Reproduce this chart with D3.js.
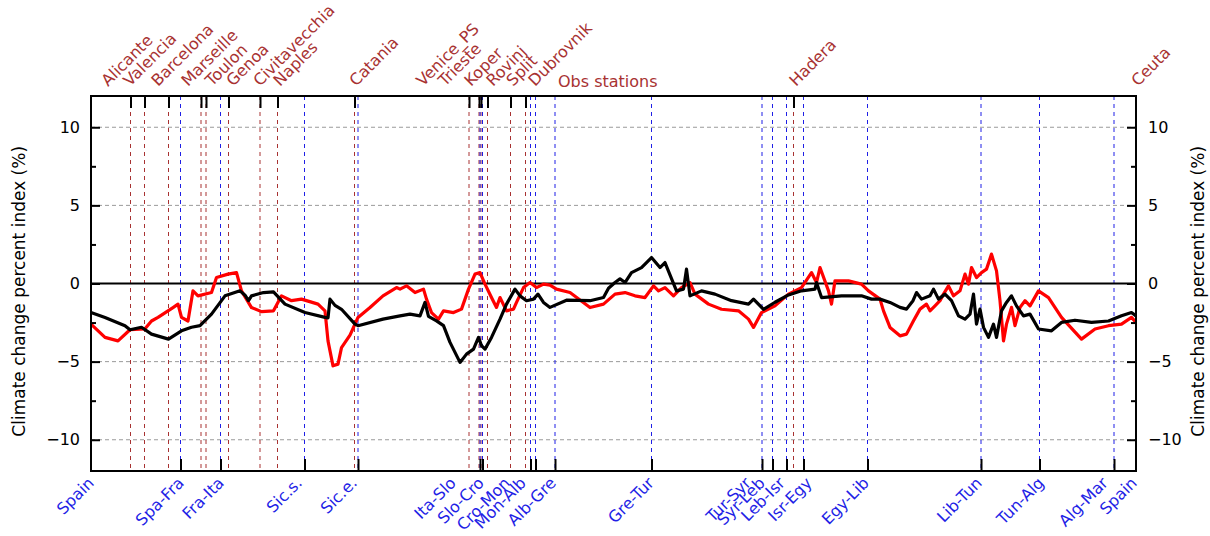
<!DOCTYPE html>
<html>
<head>
<meta charset="utf-8">
<script src="https://d3js.org/d3.v7.min.js"></script>
<style>
  body { margin: 0; background: #fff; }
  svg text { font-family: "DejaVu Sans", Verdana, sans-serif; }
</style>
</head>
<body>
<div id="chart"></div>
<script>
// Data ----------------------------------------------------------------------->

// Along-coast position index (0 = Spain, going round the basin back to Spain)
const station_names = ['Alicante', 'Valencia', 'Barcelona', 'Marseille', 'Toulon',
  'Genoa', 'Civitavecchia', 'Naples', 'Catania', 'Venice_PS', 'Trieste', 'Koper',
  'Rovinj', 'Split', 'Dubrovnik', 'Hadera', 'Ceuta'];
const station_pos = [79, 107, 155, 220, 230, 275, 338, 373, 527, 756, 776, 780,
  793, 839, 869, 1405, 2090];
// where each station name is written (labels were spread to avoid overlap)
const station_label_pos = [34, 78, 134, 194, 242, 284, 338, 378, 530, 664, 708,
  760, 804, 844, 888, 1410, 2094];

const border_names = ['Spain', 'Spa-Fra', 'Fra-Ita', 'Sic.s.', 'Sic.e.', 'Ita-Slo',
  'Slo-Cro', 'Cro-Mon', 'Mon-Alb', 'Alb-Gre', 'Gre-Tur', 'Tur-Syr', 'Syr-Leb',
  'Leb-Isr', 'Isr-Egy', 'Egy-Lib', 'Lib-Tun', 'Tun-Alg', 'Alg-Mar', 'Spain'];
const border_pos = [0, 179, 259, 427, 534, 778, 783, 879, 889, 928, 1121, 1342,
  1363, 1391, 1425, 1553, 1780, 1897, 2046, 2090];
const border_label_pos = [8, 188, 268, 424, 534, 732, 788, 840, 872, 932, 1128,
  1322, 1350, 1390, 1444, 1558, 1784, 1908, 2036, 2094];

const y_major = [-10, -5, 0, 5, 10];
const y_minor = [-7.5, -2.5, 2.5, 7.5];
const y_grid = [-10, -5, 5, 10];

// Red series: [position, percent]
const red_series = [
  [0, -2.6], [28, -3.45], [54, -3.67], [78, -2.96], [108, -2.9], [121, -2.4],
  [134, -2.17], [164, -1.54], [174, -1.32], [181, -2.17], [194, -2.4], [204, -0.47],
  [214, -0.79], [241, -0.58], [251, 0.38], [274, 0.6], [291, 0.7], [301, -0.47],
  [321, -1.54], [341, -1.8], [365, -1.75], [381, -0.79], [401, -1.1], [421, -1.0],
  [454, -1.32], [468, -1.75], [474, -3.67], [484, -5.27], [494, -5.16], [501, -4.1],
  [518, -3.3], [534, -2.17], [558, -1.54], [584, -0.79], [611, -0.26], [618, -0.36],
  [631, -0.15], [648, -0.58], [665, -0.36], [671, -1.0], [681, -1.86], [695, -2.28],
  [705, -1.75], [725, -1.86], [741, -1.64], [755, -0.36], [768, 0.6], [778, 0.7],
  [788, -0.04], [801, -0.9], [811, -1.53], [818, -0.9], [831, -1.75], [845, -1.64],
  [851, -1.21], [865, -0.26], [878, 0.06], [891, -0.26], [905, -0.04], [918, -0.1],
  [931, -0.36], [958, -0.58], [998, -1.54], [1025, -1.32],
  [1048, -0.68], [1068, -0.58], [1088, -0.79], [1108, -0.9], [1125, -0.15],
  [1135, -0.47], [1148, -0.26], [1165, -0.79], [1181, -0.26], [1198, 0.06],
  [1208, -0.68], [1235, -1.32], [1261, -1.65], [1295, -1.75], [1315, -2.28],
  [1325, -2.81], [1341, -1.86], [1368, -1.43], [1395, -0.68], [1421, -0.26],
  [1441, 0.7], [1451, 0.06], [1458, 1.02], [1475, -0.47], [1481, -1.32], [1488, 0.17],
  [1515, 0.17], [1541, -0.04], [1555, -0.47], [1578, -1.0], [1585, -1.75],
  [1598, -2.81], [1618, -3.35], [1631, -3.24], [1645, -2.39], [1658, -1.64],
  [1671, -1.32], [1678, -1.75], [1688, -1.43], [1698, -1.1], [1705, -0.68],
  [1715, -0.15], [1725, -0.79], [1738, -0.47], [1748, 0.6], [1755, -0.04],
  [1761, 1.02], [1771, 0.38], [1781, 0.7], [1791, 0.92], [1801, 1.88], [1811, 0.81],
  [1818, -1.1], [1825, -3.67], [1831, -2.6], [1841, -1.53], [1848, -2.7],
  [1858, -1.53], [1868, -1.1], [1878, -1.43], [1895, -0.47], [1915, -0.9],
  [1941, -2.17], [1981, -3.56], [2008, -2.91], [2035, -2.7], [2061, -2.6],
  [2081, -2.17], [2090, -2.49]
];

// Black series: [position, percent]
const black_series = [
  [0, -1.86], [28, -2.17], [68, -2.7], [78, -2.96], [101, -2.8], [121, -3.24],
  [155, -3.56], [181, -3.03], [201, -2.8], [218, -2.7], [241, -1.96], [268, -0.79],
  [298, -0.47], [308, -0.75], [315, -1.1], [321, -0.79], [345, -0.58], [365, -0.54],
  [388, -1.32], [428, -1.86], [468, -2.17], [474, -2.2], [478, -1.0], [488, -1.4],
  [501, -1.65], [528, -2.6], [534, -2.7], [584, -2.28], [618, -2.07], [638, -1.96],
  [658, -2.07], [668, -1.21], [675, -2.1], [691, -2.39], [705, -2.7], [718, -3.77],
  [738, -5.05], [751, -4.52], [765, -4.2], [775, -3.45], [781, -3.98], [788, -4.2],
  [801, -3.45], [818, -2.28], [831, -1.32], [848, -0.36], [858, -0.79], [871, -1.1],
  [885, -1.0], [894, -0.68], [905, -1.21], [918, -1.53],
  [951, -1.07], [998, -1.1], [1025, -0.9], [1035, -0.3], [1048, 0.06],
  [1058, 0.3], [1068, 0.06], [1081, 0.7], [1101, 1.02], [1121, 1.66], [1138, 1.02],
  [1148, 1.34], [1171, -0.47], [1185, -0.36], [1191, 0.92], [1198, -0.79],
  [1221, -0.47], [1248, -0.68], [1281, -1.1], [1315, -1.32], [1325, -1.0],
  [1345, -1.65], [1368, -1.2], [1395, -0.73], [1421, -0.47], [1448, -0.36],
  [1451, 0.06], [1461, -0.9], [1501, -0.79], [1541, -0.79], [1561, -1.0],
  [1578, -1.0], [1598, -1.21], [1618, -1.53], [1631, -1.64], [1644, -1.1],
  [1651, -0.58], [1661, -1.0], [1678, -0.79], [1685, -0.36], [1695, -1.0],
  [1708, -0.68], [1721, -1.1], [1735, -2.07], [1748, -2.28], [1758, -1.96],
  [1765, -0.68], [1771, -2.6], [1778, -1.64], [1785, -2.81], [1795, -3.45],
  [1805, -2.6], [1811, -3.45], [1821, -1.75], [1831, -1.21], [1841, -0.79],
  [1851, -1.43], [1865, -2.07], [1878, -1.96], [1895, -2.91], [1921, -3.03],
  [1941, -2.49], [1968, -2.35], [2001, -2.49], [2035, -2.4], [2061, -2.07],
  [2081, -1.86], [2090, -2.07]
];

// Setup ---------------------------------------------------------------------->

const width = 1210, height = 536;
const margin = {top: 96, right: 74, bottom: 65, left: 91};

const svg = d3.select('#chart')
  .append('svg')
    .attr('width', width)
    .attr('height', height);

const x = d3.scaleLinear()
  .domain([0, 2090])
  .range([margin.left, width - margin.right]);
const y = d3.scaleLinear()
  .domain([-12, 12])
  .range([height - margin.bottom, margin.top]);

const font_size = 16;
const station_col = '#a83232';
const border_col = '#1f1fe6';

// Grid and reference lines --------------------------------------------------->

svg.append('g')
  .selectAll('line')
  .data(y_grid)
  .join('line')
    .attr('x1', x(0)).attr('x2', x(2090))
    .attr('y1', d => y(d)).attr('y2', d => y(d))
    .attr('stroke', '#9a9a9a')
    .attr('stroke-width', 1)
    .attr('stroke-dasharray', '4,3');

svg.append('g')
  .selectAll('line')
  .data(station_pos.slice(0, -1))
  .join('line')
    .attr('x1', d => x(d)).attr('x2', d => x(d))
    .attr('y1', y(12)).attr('y2', y(-12))
    .attr('stroke', station_col)
    .attr('stroke-width', 1)
    .attr('stroke-dasharray', '4,4');

svg.append('g')
  .selectAll('line')
  .data(border_pos.slice(1, -1))
  .join('line')
    .attr('x1', d => x(d)).attr('x2', d => x(d))
    .attr('y1', y(12)).attr('y2', y(-12))
    .attr('stroke', border_col)
    .attr('stroke-width', 1)
    .attr('stroke-dasharray', '4,4');

// zero line
svg.append('line')
  .attr('x1', x(0)).attr('x2', x(2090))
  .attr('y1', y(0)).attr('y2', y(0))
  .attr('stroke', '#000')
  .attr('stroke-width', 2);

// Series --------------------------------------------------------------------->

const line = d3.line()
  .x(d => x(d[0]))
  .y(d => y(d[1]));

svg.append('path')
  .datum(red_series)
  .attr('d', line)
  .attr('fill', 'none')
  .attr('stroke', '#ff0000')
  .attr('stroke-width', 3.2)
  .attr('stroke-linejoin', 'round');

svg.append('path')
  .datum(black_series)
  .attr('d', line)
  .attr('fill', 'none')
  .attr('stroke', '#000')
  .attr('stroke-width', 3.2)
  .attr('stroke-linejoin', 'round');

// Axes ----------------------------------------------------------------------->

function style_axis(g){
  g.select('.domain').remove();
  g.selectAll('.tick line').attr('stroke', '#000').attr('stroke-width', 2);
  g.selectAll('.tick text')
    .attr('fill', '#000')
    .style('font-size', font_size + 'px')
    .style('font-family', '"DejaVu Sans", Verdana, sans-serif');
}

svg.append('g')
  .attr('transform', `translate(${margin.left},0)`)
  .call(d3.axisLeft(y).tickValues(y_major).tickSize(-9).tickPadding(11))
  .call(style_axis);
svg.append('g')
  .attr('transform', `translate(${margin.left},0)`)
  .call(d3.axisLeft(y).tickValues(y_minor).tickSize(-5).tickFormat(''))
  .call(style_axis);
svg.append('g')
  .attr('transform', `translate(${width - margin.right},0)`)
  .call(d3.axisRight(y).tickValues(y_major).tickSize(-9).tickPadding(12))
  .call(style_axis);
svg.append('g')
  .attr('transform', `translate(${width - margin.right},0)`)
  .call(d3.axisRight(y).tickValues(y_minor).tickSize(-5).tickFormat(''))
  .call(style_axis);

// station ticks along the top, border ticks along the bottom
svg.append('g')
  .attr('transform', `translate(0,${margin.top})`)
  .call(d3.axisTop(x).tickValues(station_pos.slice(0, -1)).tickSize(-12).tickFormat(''))
  .call(style_axis);
svg.append('g')
  .attr('transform', `translate(0,${height - margin.bottom})`)
  .call(d3.axisBottom(x).tickValues(border_pos.slice(1, -1)).tickSize(-12).tickFormat(''))
  .call(style_axis);

// frame
svg.append('rect')
  .attr('x', x(0)).attr('y', y(12))
  .attr('width', x(2090) - x(0))
  .attr('height', y(-12) - y(12))
  .attr('fill', 'none')
  .attr('stroke', '#000')
  .attr('stroke-width', 2);

// Labels --------------------------------------------------------------------->

svg.append('g')
  .selectAll('text')
  .data(station_names)
  .join('text')
    .attr('transform', (d, i) => `translate(${x(station_label_pos[i])},${margin.top - 9}) rotate(-45)`)
    .attr('text-anchor', 'start')
    .attr('fill', station_col)
    .style('font-size', font_size + 'px')
    .text(d => d);

svg.append('text')
  .attr('x', x(934))
  .attr('y', margin.top - 9)
  .attr('fill', station_col)
  .style('font-size', font_size + 'px')
  .text('Obs stations');

svg.append('g')
  .selectAll('text')
  .data(border_names)
  .join('text')
    .attr('transform', (d, i) => `translate(${x(border_label_pos[i])},${height - margin.bottom + 13}) rotate(-45)`)
    .attr('text-anchor', 'end')
    .attr('fill', border_col)
    .style('font-size', font_size + 'px')
    .text(d => d);

const y_title = 'Climate change percent index (%)';
svg.append('text')
  .attr('transform', `translate(25,${y(-0.5)}) rotate(-90)`)
  .attr('text-anchor', 'middle')
  .style('font-size', '17px')
  .text(y_title);
svg.append('text')
  .attr('transform', `translate(1204,${y(-0.5)}) rotate(-90)`)
  .attr('text-anchor', 'middle')
  .style('font-size', '17px')
  .text(y_title);
</script>
</body>
</html>
